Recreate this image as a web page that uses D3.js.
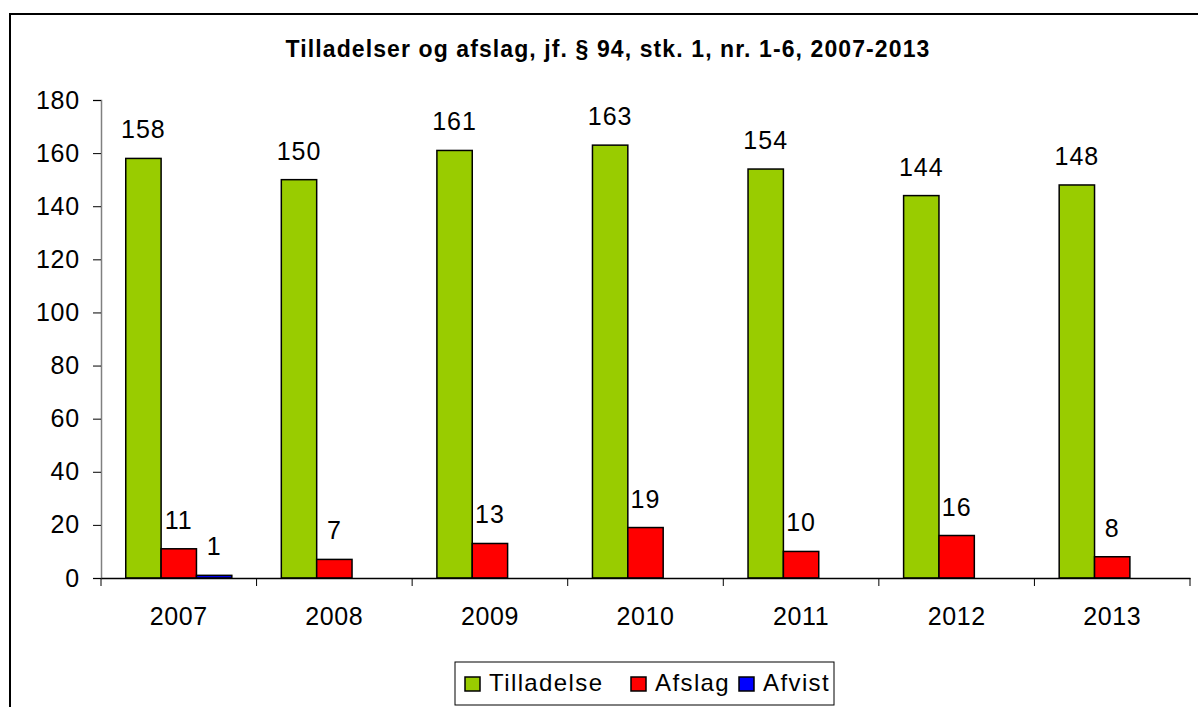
<!DOCTYPE html>
<html><head><meta charset="utf-8">
<script src="https://cdn.jsdelivr.net/npm/d3@7"></script>
<style>
html,body{margin:0;padding:0;background:#fff;}
text{font-family:"Liberation Sans",Arial,sans-serif;}
</style></head>
<body>
<svg id="c" width="1198" height="707"></svg>
<script>
const title = "Tilladelser og afslag, jf. § 94, stk. 1, nr. 1-6, 2007-2013";
const years = ["2007","2008","2009","2010","2011","2012","2013"];
const seriesNames = ["Tilladelse","Afslag","Afvist"];
const tilladelse = [158,150,161,163,154,144,148];
const afslag = [11,7,13,19,10,16,8];
const afvist = [1,null,null,null,null,null,null];
const yTicks = [0,20,40,60,80,100,120,140,160,180];
const colors = ["#99CC00","#FF0000","#0000FF"];

const svg = d3.select("#c");
const seriesVals = [tilladelse, afslag, afvist];

// outer frame
svg.append("rect").attr("x",10).attr("y",14).attr("width",1200).attr("height",720)
  .attr("fill","none").attr("stroke","#000").attr("stroke-width",2);

svg.append("text").attr("x",608).attr("y",57).attr("text-anchor","middle")
  .attr("font-size",23).attr("font-weight","bold").attr("letter-spacing",1.1)
  .text(title);

const x0 = d3.scaleBand().domain(years).range([101,1190]).padding(0);
const x1 = d3.scaleBand().domain(seriesNames).range([0,x0.bandwidth()]).paddingInner(0).paddingOuter(0.7);
const y = d3.scaleLinear().domain([0,180]).range([578,100]);

// y axis
const yAxis = svg.append("g").attr("transform","translate(101,0)")
  .call(d3.axisLeft(y).tickValues(yTicks).tickSize(8).tickPadding(13));
yAxis.select(".domain").attr("stroke","#808080").attr("stroke-width",1.5);
yAxis.selectAll(".tick line").attr("stroke","#000");
yAxis.selectAll("text").attr("font-size",25).attr("fill","#000")
  .attr("font-family","'Liberation Sans',Arial,sans-serif").attr("letter-spacing",0.8);

// bars
const data = [];
years.forEach((yr,i)=>seriesNames.forEach((s,j)=>{
  const v = seriesVals[j][i];
  if(v!=null) data.push({yr,s,v,j});
}));
const g = svg.append("g");
g.selectAll("rect").data(data).join("rect")
  .attr("x",d=>x0(d.yr)+x1(d.s))
  .attr("width",x1.bandwidth())
  .attr("y",d=>y(d.v))
  .attr("height",d=>y(0)-y(d.v))
  .attr("fill",d=>colors[d.j]).attr("stroke","#000").attr("stroke-width",1.5);

g.selectAll("text.val").data(data).join("text").attr("class","val")
  .attr("x",d=>x0(d.yr)+x1(d.s)+x1.bandwidth()/2)
  .attr("y",d=>y(d.v)-20)
  .attr("text-anchor","middle").attr("font-size",25).attr("letter-spacing",1)
  .text(d=>d.v);

// x axis
const xAxis = svg.append("g").attr("transform","translate(0,578)")
  .call(d3.axisBottom(x0).tickSize(0).tickPadding(0).tickSizeOuter(0));
xAxis.select(".domain").attr("stroke","#000").attr("stroke-width",1.5);
xAxis.selectAll(".tick text").attr("font-size",25).attr("fill","#000").attr("dy",null).attr("y",47)
  .attr("font-family","'Liberation Sans',Arial,sans-serif").attr("letter-spacing",0.6);
const bounds = years.map(d=>x0(d)).concat([x0.range()[1]]);
xAxis.selectAll("line.bt").data(bounds).join("line").attr("class","bt")
  .attr("x1",d=>d).attr("x2",d=>d).attr("y1",0).attr("y2",8).attr("stroke","#000");

// legend
const lg = svg.append("g");
lg.append("rect").attr("x",455).attr("y",662).attr("width",379).attr("height",43)
  .attr("fill","#fff").attr("stroke","#000").attr("stroke-width",1);
const legX = [465,631,739];
seriesNames.forEach((s,i)=>{
  lg.append("rect").attr("x",legX[i]).attr("y",677).attr("width",15).attr("height",14)
    .attr("fill",colors[i]).attr("stroke","#000").attr("stroke-width",1.5);
  lg.append("text").attr("x",legX[i]+24).attr("y",691).attr("font-size",24).attr("letter-spacing",1.4).text(s);
});
</script>
</body></html>
